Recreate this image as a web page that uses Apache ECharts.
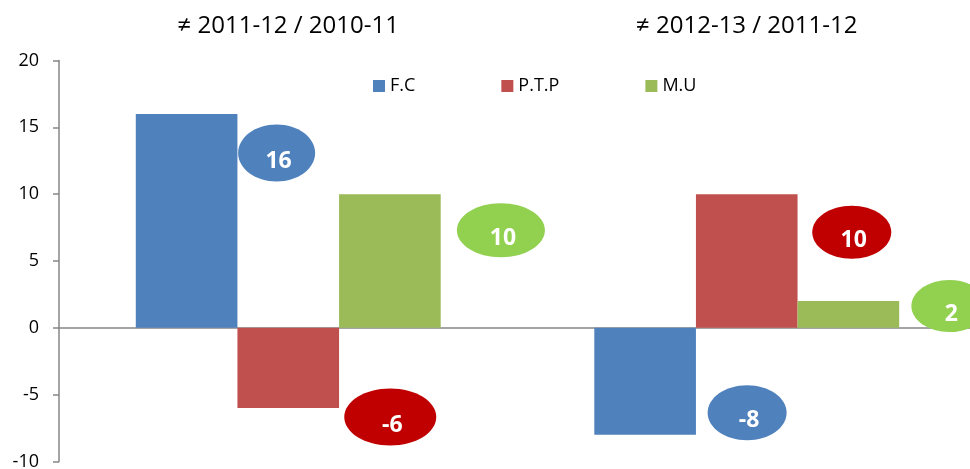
<!DOCTYPE html>
<html>
<head>
<meta charset="utf-8">
<script src="https://cdn.jsdelivr.net/npm/echarts@6/dist/echarts.min.js"></script>
<style>
  html, body { margin: 0; padding: 0; background: #fff; }
  #chart { width: 970px; height: 469px; }
</style>
</head>
<body>
<div id="chart"></div>
<script>
// data
const categories = ['≠ 2011-12 / 2010-11', '≠ 2012-13 / 2011-12'];
const seriesNames = ['F.C', 'P.T.P', 'M.U'];
const fcValues = [16, -8];
const ptpValues = [-6, 10];
const muValues = [10, 2];
const yMin = -10;
const yMax = 20;
const yStep = 5;

// styling
const barColors = ['#4F81BD', '#C0504D', '#9BBB59'];
const bubbleColors = ['#4F81BD', '#C00000', '#92D050'];
const FONT = '"Open Sans", "Liberation Sans", sans-serif';
const GAP = 0.335;
// bubble shift from the bar's end point [dx, dy, width, height], per series then category
const bubbleLayout = [
  [[90, 39, 77, 57], [102, -22, 79, 55]],
  [[102, 9, 92, 57], [105, 38, 79, 53]],
  [[111, 36, 88, 54], [101, 5, 76, 52]]
];

const allValues = [fcValues, ptpValues, muValues];

function bubbleSeries(s) {
  return {
    type: 'custom',
    xAxisIndex: 0,
    z: 5,
    data: allValues[s].map((v, i) => [i, v]),
    renderItem: function (params, api) {
      const val = api.value(1);
      const pt = api.coord([api.value(0), val]);
      const band = api.size([1, 0])[0];
      const barW = band * (1 - GAP) / 3;
      const L = bubbleLayout[s][params.dataIndex];
      const cx = pt[0] + (s - 1) * barW + L[0];
      const cy = pt[1] + L[1];
      return {
        type: 'group',
        children: [
          { type: 'ellipse', shape: { cx: cx, cy: cy, rx: L[2] / 2, ry: L[3] / 2 },
            style: { fill: bubbleColors[s] } },
          { type: 'text', x: cx + 2, y: cy + 8,
            style: { text: String(val), fill: '#fff', font: 'bold 23px ' + FONT,
                     align: 'center', verticalAlign: 'middle',
                     textAlign: 'center', textVerticalAlign: 'middle' } }
        ]
      };
    }
  };
}

const chart = echarts.init(document.getElementById('chart'));
chart.setOption({
  animation: false,
  backgroundColor: '#fff',
  legend: {
    data: seriesNames,
    left: 368,
    top: 72,
    itemWidth: 12,
    itemHeight: 12,
    itemGap: 86,
    icon: 'rect',
    textStyle: { fontFamily: FONT, fontSize: 18, color: '#000' }
  },
  grid: { left: 59, width: 917, top: 60.5, bottom: 7.5, containLabel: false, outerBoundsMode: 'none' },
  xAxis: [
    {
      type: 'category',
      data: categories,
      axisLine: { onZero: true, lineStyle: { color: '#868686', width: 1.5 } },
      axisTick: { show: false },
      axisLabel: { show: false }
    },
    {
      type: 'category',
      position: 'top',
      data: categories,
      axisLine: { show: false },
      axisTick: { show: false },
      axisLabel: { margin: 22, fontFamily: FONT, fontSize: 24, color: '#000' }
    }
  ],
  yAxis: {
    type: 'value',
    min: yMin,
    max: yMax,
    interval: yStep,
    splitLine: { show: false },
    axisLine: { show: true, lineStyle: { color: '#868686', width: 1.5 } },
    axisTick: { show: true, length: 6, lineStyle: { color: '#868686', width: 1.5 } },
    axisLabel: { margin: 20, fontFamily: FONT, fontSize: 18, color: '#000' }
  },
  series: [
    { name: seriesNames[0], type: 'bar', data: fcValues, itemStyle: { color: barColors[0] },
      barGap: 0, barCategoryGap: (GAP * 100) + '%' },
    { name: seriesNames[1], type: 'bar', data: ptpValues, itemStyle: { color: barColors[1] } },
    { name: seriesNames[2], type: 'bar', data: muValues, itemStyle: { color: barColors[2] } },
    bubbleSeries(0),
    bubbleSeries(1),
    bubbleSeries(2)
  ]
});
</script>
</body>
</html>
